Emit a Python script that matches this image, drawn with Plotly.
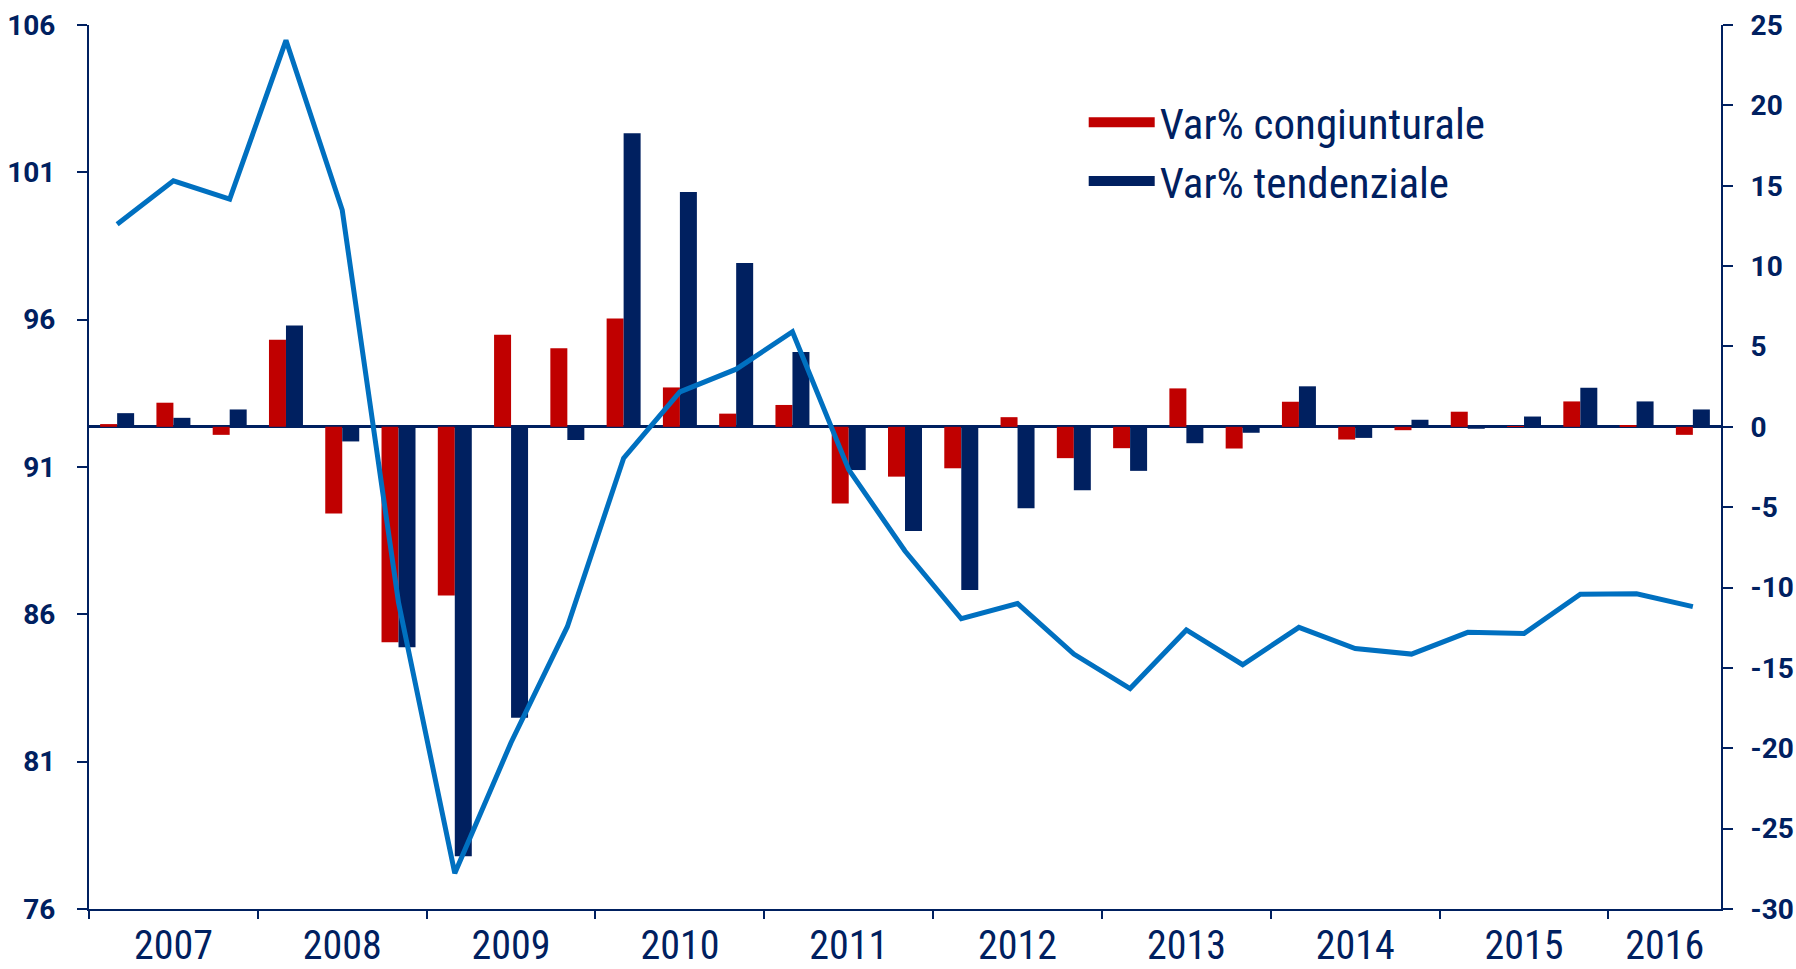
import plotly.graph_objects as go

# ---- data ----
years = ["2007", "2008", "2009", "2010", "2011", "2012", "2013", "2014", "2015", "2016"]
points_per_year = [3, 3, 3, 3, 3, 3, 3, 3, 3, 2]

var_congiunturale = [0.17, 1.5, -0.5, 5.42, -5.4, -13.4, -10.5, 5.73, 4.89, 6.74,
                     2.45, 0.82, 1.36, -4.77, -3.1, -2.58, 0.6, -1.95, -1.33, 2.39,
                     -1.35, 1.56, -0.79, -0.21, 0.94, 0.04, 1.58, 0.08, -0.5]
var_tendenziale = [0.85, 0.56, 1.08, 6.31, -0.91, -13.72, -26.72, -18.1, -0.82, 18.26,
                   14.61, 10.2, 4.65, -2.69, -6.48, -10.16, -5.07, -3.95, -2.74, -1.02,
                   -0.37, 2.52, -0.69, 0.44, -0.12, 0.64, 2.43, 1.58, 1.08]
indice = [99.24, 100.71, 100.09, 105.48, 99.72, 86.4, 77.21, 81.65, 85.58, 91.3,
          93.55, 94.32, 95.59, 90.91, 88.15, 85.85, 86.37, 84.65, 83.48, 85.47,
          84.29, 85.56, 84.84, 84.65, 85.39, 85.35, 86.68, 86.70, 86.26]

left_ticks = [76, 81, 86, 91, 96, 101, 106]
right_ticks = [-30, -25, -20, -15, -10, -5, 0, 5, 10, 15, 20, 25]

x = list(range(len(indice)))

# year boundaries and centres on the category scale
bounds = [-0.5]
for n in points_per_year:
    bounds.append(bounds[-1] + n)
centres = [(bounds[i] + bounds[i + 1]) / 2 for i in range(len(years))]

NAVY = "#002060"
RED = "#C00000"
BLUE = "#0070C0"
NARROW = "Roboto Condensed, Noto Sans Condensed, Liberation Sans Narrow, Arial Narrow, DejaVu Sans Condensed, sans-serif"
BOLD = "Roboto, Open Sans, sans-serif"

fig = go.Figure()
fig.add_trace(go.Bar(x=x, y=var_congiunturale, name="Var% congiunturale",
                     marker=dict(color=RED, line=dict(width=0)), yaxis="y",
                     legendgroup="c", showlegend=False))
fig.add_trace(go.Bar(x=x, y=var_tendenziale, name="Var% tendenziale",
                     marker=dict(color=NAVY, line=dict(width=0)), yaxis="y",
                     legendgroup="t", showlegend=False))
fig.add_trace(go.Scatter(x=x, y=indice, mode="lines", name="Indice",
                         line=dict(color=BLUE, width=5), yaxis="y2", showlegend=False))
# legend entries (wide colour swatches) for the two bar series
fig.add_trace(go.Scatter(x=[None], y=[None], mode="lines", name="Var% congiunturale",
                         line=dict(color=RED, width=18), legendgroup="c"))
fig.add_trace(go.Scatter(x=[None], y=[None], mode="lines", name="Var% tendenziale",
                         line=dict(color=NAVY, width=18), legendgroup="t"))

axis_common = dict(showline=True, linecolor=NAVY, linewidth=2, ticks="outside",
                   ticklen=10, tickwidth=2, tickcolor=NAVY, showgrid=False,
                   tickfont=dict(family=BOLD, size=28, color=NAVY, weight="bold"),
                   tickmode="array")

fig.update_layout(
    width=1796, height=969,
    margin=dict(l=89, r=75, t=25, b=60, autoexpand=False),
    paper_bgcolor="white", plot_bgcolor="white",
    barmode="group", bargap=0.396, bargroupgap=0,
    showlegend=True,
    legend=dict(x=0.6095, y=0.929, xanchor="left", yanchor="top",
                font=dict(family=NARROW, size=43, color=NAVY),
                bgcolor="rgba(0,0,0,0)", tracegroupgap=0, itemwidth=66,
                groupclick="toggleitem"),
    xaxis=dict(range=[-0.5, len(x) - 0.5], tickmode="array", tickvals=centres, ticktext=years,
               ticks="", showline=True, linecolor=NAVY, linewidth=2, showgrid=False,
               zeroline=False, tickfont=dict(family=NARROW, size=40, color=NAVY),
               ticklabelstandoff=0,
               minor=dict(tickmode="array", tickvals=bounds[:-1], ticks="outside",
                          ticklen=8, tickwidth=2, tickcolor=NAVY, showgrid=False)),
    yaxis=dict(range=[-30, 25], side="right", zeroline=True, zerolinecolor=NAVY,
               zerolinewidth=2.5, tickvals=right_ticks, ticklabelstandoff=12,
               ticktext=["<b>%d</b>" % v for v in right_ticks], **axis_common),
    yaxis2=dict(range=[76, 106], side="left", overlaying="y", zeroline=False,
                tickvals=left_ticks, ticklabelstandoff=16,
                ticktext=["<b>%d</b>" % v for v in left_ticks],
                **axis_common),
)

fig.write_html("out.html", post_script="document.body.style.margin='0';",
               config={"displayModeBar": False})
